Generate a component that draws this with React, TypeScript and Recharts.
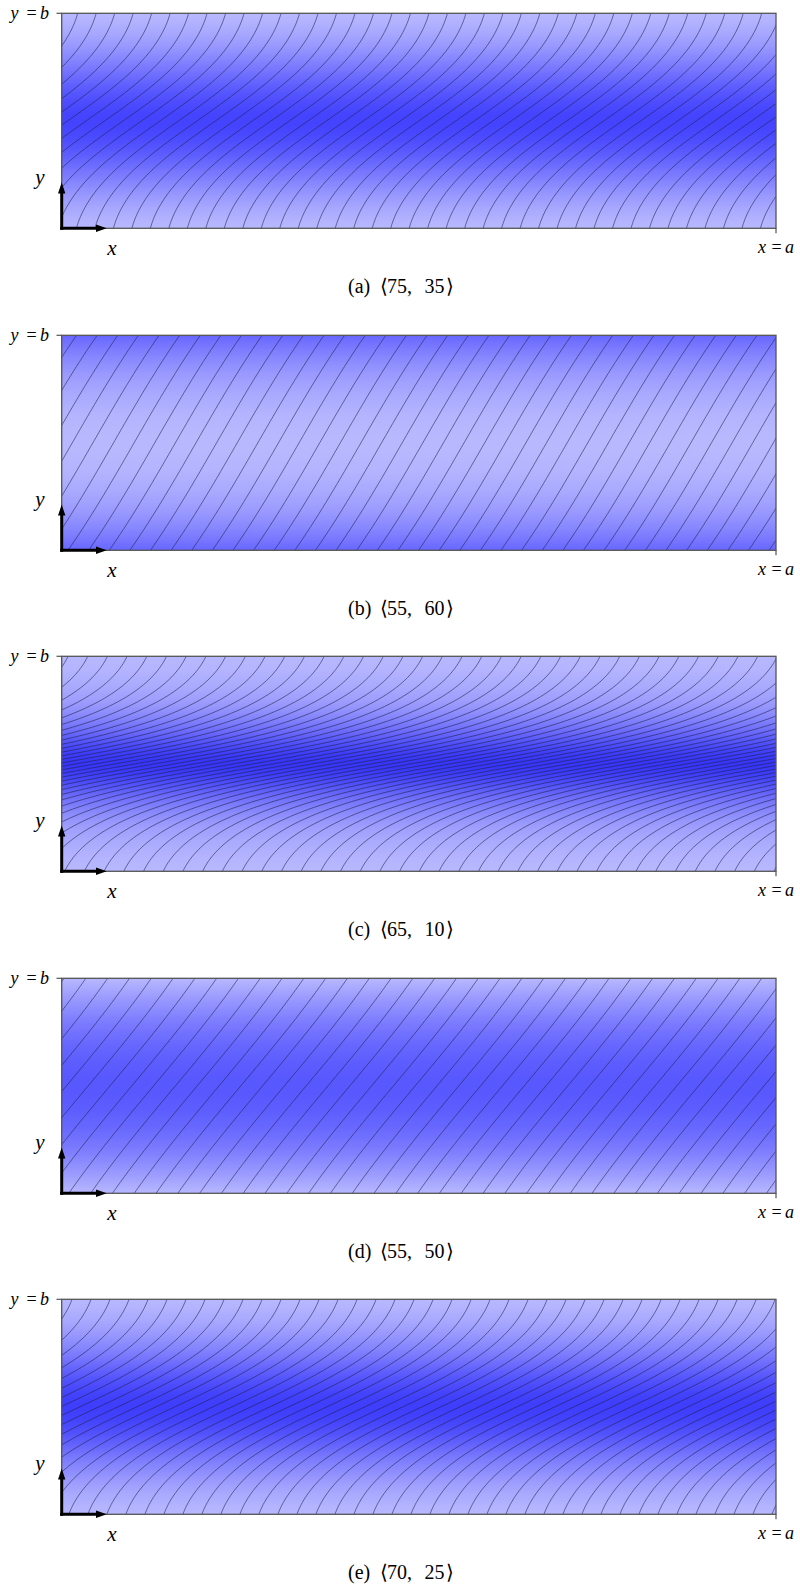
import React from 'react';
import { ComposedChart, Line, XAxis, YAxis, ReferenceArea } from 'recharts';

// fibre paths of five variable-angle plies <T0, T1>
const panelLabels = ['(a)', '(b)', '(c)', '(d)', '(e)'];
const edgeAngle = [75, 55, 65, 55, 70]; // T0, at y = 0 and y = b
const centreAngle = [35, 60, 10, 50, 25]; // T1, at y = b/2
const fibreStart = [0.0206, 0.0088, 0.0042, 0.01, 0.01]; // where a fibre meets y = 0 (units of a)
const FIBRE_WIDTH = 0.025; // perpendicular spacing at the steepest angle (units of a)

const A = 1;
const B = 0.3;
const STEPS = 90;

// styles
const LIGHT = [184, 184, 255];
const darkShade = [[68, 68, 255], [102, 102, 255], [54, 54, 248], [88, 88, 255], [62, 62, 252]];
const PANEL_STEP = 321.6;
const CHART_H = 300;
const BOX = { left: 61.7, top: 13.3, right: 776, bottom: 228.3 };
const SERIF = '"Liberation Serif", "Times New Roman", serif';

const rad = (d: number) => (d * Math.PI) / 180;

// angle moves from T1 at mid-width to T0 at the edges, quadratically
function angleAt(t0: number, t1: number, y: number) {
  const u = Math.abs((2 * y) / B - 1);
  return t1 + (t0 - t1) * u * u;
}

function shiftTable(t0: number, t1: number) {
  const cot = (y: number) => 1 / Math.tan(rad(angleAt(t0, t1, y)));
  const h = B / STEPS;
  const xs = [0];
  let acc = 0;
  for (let j = 0; j < STEPS; j++) {
    const y = j * h;
    acc += (h / 6) * (cot(y) + 4 * cot(y + h / 2) + cot(y + h));
    xs.push(acc);
  }
  return xs;
}

function fibres(i: number) {
  const t0 = edgeAngle[i];
  const t1 = centreAngle[i];
  const dx = FIBRE_WIDTH / Math.sin(rad(Math.max(t0, t1)));
  const xs = shiftTable(t0, t1);
  const total = xs[STEPS];
  const n0 = Math.floor((-total - fibreStart[i]) / dx) - 1;
  const n1 = Math.ceil((A - fibreStart[i]) / dx) + 1;
  const pts: { x: number; y: number | null }[] = [];
  for (let n = n0; n <= n1; n++) {
    const x0 = fibreStart[i] + n * dx;
    for (let j = 0; j <= STEPS; j++) {
      pts.push({ x: x0 + xs[j], y: (B * j) / STEPS });
    }
    pts.push({ x: x0 + total, y: null });
  }
  return pts;
}

function gradientStops(i: number) {
  const t0 = edgeAngle[i];
  const t1 = centreAngle[i];
  const th = (a: number) => 1 / Math.sin(rad(a));
  const tMin = Math.min(th(t0), th(t1));
  const tMax = Math.max(th(t0), th(t1));
  const stops = [];
  for (let j = 0; j <= 60; j++) {
    const off = j / 60;
    const t = th(angleAt(t0, t1, B * (1 - off)));
    const s = tMax > tMin ? (t - tMin) / (tMax - tMin) : 0;
    const c = LIGHT.map((l, k) => Math.round(l + (darkShade[i][k] - l) * s));
    stops.push(<stop key={j} offset={off} stopColor={`rgb(${c[0]},${c[1]},${c[2]})`} />);
  }
  return stops;
}

function Overlay({ i }: { i: number }) {
  const w = BOX.right - BOX.left;
  const h = BOX.bottom - BOX.top;
  return (
    <svg width={800} height={CHART_H + 10} style={{ position: 'absolute', left: 0, top: 0, pointerEvents: 'none' }}>
      <rect x={BOX.left} y={BOX.top} width={w} height={h} fill="none" stroke="#555" strokeWidth={1.3} />
      <line x1={56.5} y1={BOX.top} x2={BOX.left} y2={BOX.top} stroke="#555" strokeWidth={1.2} />
      <line x1={BOX.right} y1={BOX.bottom} x2={BOX.right} y2={BOX.bottom + 5} stroke="#555" strokeWidth={1.2} />
      <text y={18.5} fontFamily={SERIF} fontSize={18}>
        <tspan x={10.5} fontStyle="italic">y</tspan>
        <tspan x={26.5}>=</tspan>
        <tspan x={40} fontStyle="italic">b</tspan>
      </text>
      <text y={252.7} fontFamily={SERIF} fontSize={18}>
        <tspan x={758} fontStyle="italic">x</tspan>
        <tspan x={771.5}>=</tspan>
        <tspan x={785} fontStyle="italic">a</tspan>
      </text>
      <text x={40} y={183.5} textAnchor="middle" fontFamily={SERIF} fontSize={21} fontStyle="italic">y</text>
      <text x={112} y={255} textAnchor="middle" fontFamily={SERIF} fontSize={21} fontStyle="italic">x</text>
      <line x1={61.7} y1={229.8} x2={61.7} y2={192} stroke="#000" strokeWidth={3} />
      <polygon points="61.7,182.6 58,193.5 65.4,193.5" fill="#000" />
      <line x1={60.2} y1={228.3} x2={97} y2={228.3} stroke="#000" strokeWidth={3} />
      <polygon points="106.8,228.3 96,224.6 96,232" fill="#000" />
      <text y={292.5} fontFamily={SERIF} fontSize={20}>
        <tspan x={348}>{panelLabels[i]}</tspan>
        <tspan x={380}>{'\u27E8'}</tspan>
        <tspan x={387}>{edgeAngle[i]},</tspan>
        <tspan x={424.5}>{centreAngle[i]}</tspan>
        <tspan x={445.5}>{'\u27E9'}</tspan>
      </text>
    </svg>
  );
}

function Panel({ i }: { i: number }) {
  const data = fibres(i);
  return (
    <div style={{ position: 'absolute', left: 0, top: i * PANEL_STEP, width: 800, height: CHART_H + 10 }}>
      <ComposedChart
        width={800}
        height={CHART_H}
        margin={{ top: BOX.top, left: BOX.left, right: 800 - BOX.right, bottom: CHART_H - BOX.bottom }}
      >
        <defs>
          <linearGradient id={`grad-${i}`} x1="0" y1="0" x2="0" y2="1">
            {gradientStops(i)}
          </linearGradient>
        </defs>
        <XAxis type="number" dataKey="x" domain={[0, A]} allowDataOverflow hide />
        <YAxis type="number" dataKey="y" domain={[0, B]} allowDataOverflow hide />
        <ReferenceArea x1={0} x2={A} y1={0} y2={B} fill={`url(#grad-${i})`} fillOpacity={1} stroke="none" />
        <Line
          data={data}
          dataKey="y"
          type="linear"
          stroke="#22224a"
          strokeOpacity={0.72}
          strokeWidth={0.8}
          dot={false}
          activeDot={false}
          connectNulls={false}
          isAnimationActive={false}
        />
      </ComposedChart>
      <Overlay i={i} />
    </div>
  );
}

export default function App() {
  return (
    <div style={{ position: 'absolute', left: 0, top: 0, width: 800, height: 1585, background: '#fff' }}>
      {panelLabels.map((_, i) => (
        <Panel key={i} i={i} />
      ))}
    </div>
  );
}
